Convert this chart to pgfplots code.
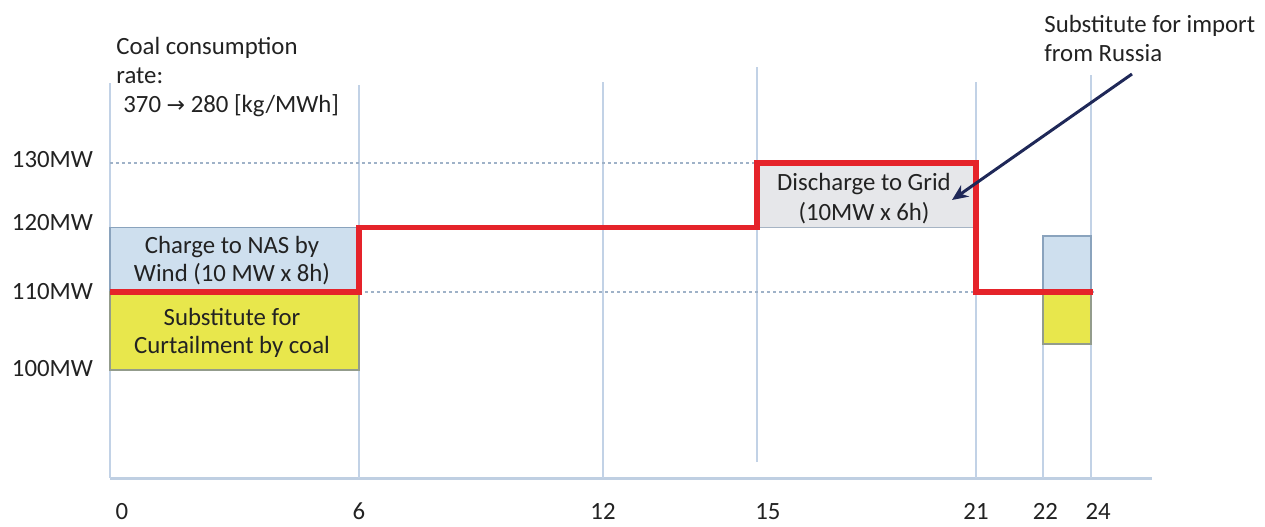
\documentclass[border=0pt]{standalone}
\usepackage{pgfplots}
\pgfplotsset{compat=1.18}
\usepackage{fontspec}
\setmainfont{Carlito}
\newfontfamily\symfont{DejaVu Sans}
\usetikzlibrary{arrows.meta}
\definecolor{gridc}{HTML}{C2D2E6}
\definecolor{axisc}{HTML}{BFCFE2}
\definecolor{dotc}{HTML}{9FB2C8}
\definecolor{txt}{HTML}{222222}
\definecolor{redl}{HTML}{E5232A}
\definecolor{bluef}{HTML}{CEDFEE}
\definecolor{blued}{HTML}{8AA3BD}
\definecolor{yelf}{HTML}{E8E74C}
\definecolor{yeld}{HTML}{939C8C}
\definecolor{grayf}{HTML}{E6E7EA}
\definecolor{grayd}{HTML}{A6B4C4}
\definecolor{navy}{HTML}{1F2858}
\newcommand{\tf}{\fontsize{12.4}{15}\selectfont}
\begin{document}
\begin{tikzpicture}
\begin{axis}[
  scale only axis, width=521pt, height=209pt,
  xmin=0, xmax=26.5417, ymin=86.154, ymax=145.969,
  x coord trafo/.code={\pgfmathparse{(#1<=6)?(110+41.5*(#1)):((#1<=12)?(359+40.667*(#1-6)):((#1<=15)?(603+51.333*(#1-12)):((#1<=21)?(757+36.5*(#1-15)):((#1<=22)?(976+67*(#1-21)):(1043+24*(#1-22))))))}},
  y coord trafo/.code={\pgfmathparse{(#1>=110)?(-292+6.45*(#1-110)):(-292-7.8*(110-#1))}},
  clip=false,
  axis x line*=bottom, axis y line*=left,
  x axis line style={draw=axisc, line width=1.5pt, -},
  y axis line style={draw=none},
  major tick length=0pt,
  xtick={0.29,6,12,15.3,21,22.1,24.3}, xticklabels={0,6,12,15,21,22,24},
  ytick={100.2,110,120.7,130.5}, yticklabels={100MW,110MW,120MW,130MW},
  xticklabel style={yshift=-9pt},
  yticklabel style={xshift=-5pt},
  tick label style={font=\tf, text=txt},
]
% vertical grid lines
\addplot[gridc, line width=0.7pt, forget plot] coordinates {(0,86.154) (0,142.40)};
\addplot[gridc, line width=0.7pt, forget plot] coordinates {(6,86.154) (6,142.09)};
\addplot[gridc, line width=0.7pt, forget plot] coordinates {(12,86.154) (12,142.56)};
\addplot[gridc, line width=0.7pt, forget plot] coordinates {(15,88.205) (15,144.88)};
\addplot[gridc, line width=0.7pt, forget plot] coordinates {(21,86.154) (21,142.56)};
\addplot[gridc, line width=0.7pt, forget plot] coordinates {(22,86.154) (22,103.33)};
\addplot[gridc, line width=0.7pt, forget plot] coordinates {(24,86.154) (24,143.64)};
% dotted reference lines
\addplot[dotc, line width=0.6pt, dash pattern=on 1.5pt off 1.5pt, forget plot] coordinates {(0,130) (15,130)};
\addplot[dotc, line width=0.6pt, dash pattern=on 1.5pt off 1.5pt, forget plot] coordinates {(6,110) (24.25,110)};
% boxes
\addplot[fill=bluef, draw=blued, line width=0.6pt] coordinates {(0,110) (6,110) (6,120) (0,120)} -- cycle;
\addplot[fill=yelf, draw=yeld, line width=0.6pt] coordinates {(0,100) (6,100) (6,110) (0,110)} -- cycle;
\addplot[fill=grayf, draw=grayd, line width=0.6pt] coordinates {(15,120) (21,120) (21,130) (15,130)} -- cycle;
\addplot[fill=bluef, draw=blued, line width=0.6pt] coordinates {(22,110) (24,110) (24,118.68) (22,118.68)} -- cycle;
\addplot[fill=yelf, draw=yeld, line width=0.6pt] coordinates {(22,103.33) (24,103.33) (24,110) (22,110)} -- cycle;
% red line
\addplot[redl, line width=2.6pt, line join=miter] coordinates {(0,110) (6,110) (6,120) (15,120) (15,130) (21,130) (21,110) (24.08,110)};
\coordinate (TL) at (axis cs:-2.6506,155.2713);
\end{axis}
\begin{scope}[shift={(TL)}, x=0.5pt, y=-0.5pt]
\path (0,0) rectangle (1265,522);
\begin{scope}[every node/.style={font=\tf, text=txt, inner sep=0pt}]
\node[anchor=base west] at (116,54) {Coal consumption};
\node[anchor=base west] at (116,83) {rate:};
\node[anchor=base west] at (123,112) {370 {\symfont\fontsize{11}{14}\selectfont →} 280 [kg/MWh]};
\node[anchor=base west] at (1044,32) {Substitute for import};
\node[anchor=base west] at (1044,61) {from Russia};
\node[anchor=base] at (232,253) {Charge to NAS by};
\node[anchor=base] at (232,281) {Wind (10 MW x 8h)};
\node[anchor=base] at (232,325) {Substitute for};
\node[anchor=base] at (232,353) {Curtailment by coal};
\node[anchor=base] at (864,190) {Discharge to Grid};
\node[anchor=base] at (864,220) {(10MW x 6h)};
\end{scope}
\draw[navy, line width=1.5pt, -{Stealth[length=8pt,width=7pt]}] (1132,74) -- (952,200);
\end{scope}
\end{tikzpicture}
\end{document}
